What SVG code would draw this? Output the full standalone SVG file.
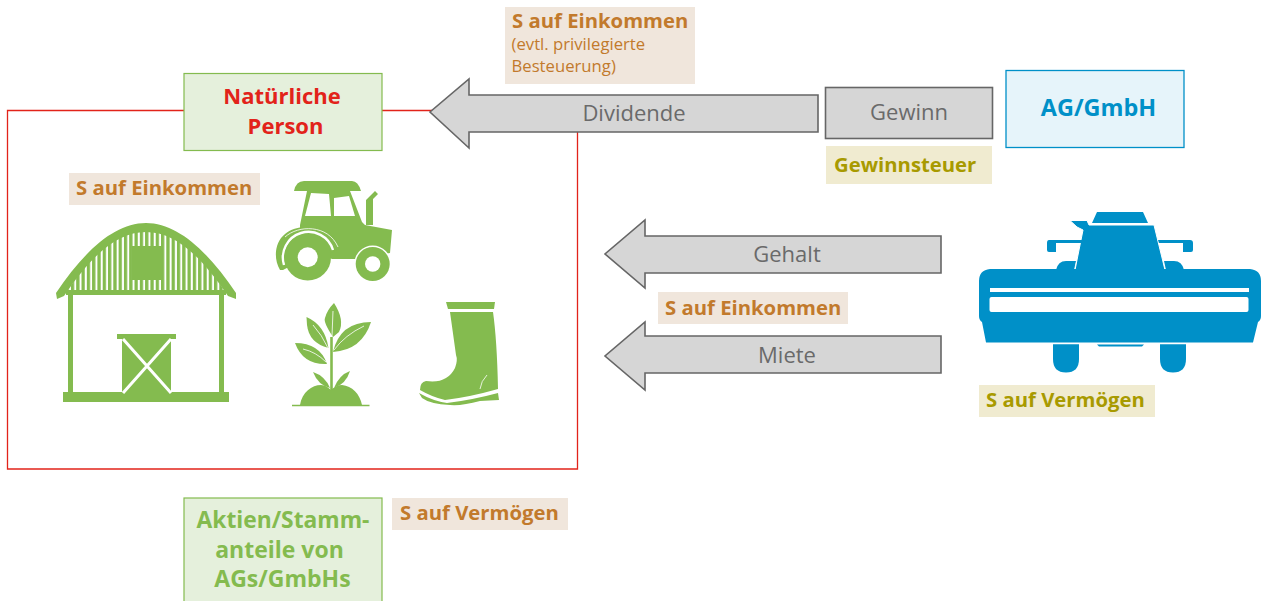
<svg xmlns="http://www.w3.org/2000/svg" width="1262" height="601" viewBox="0 0 1262 601">
<style>
text{font-family:"Open Sans","Noto Sans","Liberation Sans",sans-serif}
.b{font-weight:700;font-size:20.300px}
.l{font-size:23px}
.o{fill:#c27a2c}.y{fill:#a89a00}.g{fill:#84bb4f}.r{fill:#e2231a}.c{fill:#0090c8}
.t{fill:#6a6a6a;font-size:22px;text-anchor:middle}
.m{text-anchor:middle}
.ob{fill:#f0e6dc}.yb{fill:#f0ebd0}
.gb{fill:#e5f0dc;stroke:#84bb4f;stroke-width:1.2}
.arr{fill:#d6d6d6;stroke:#666;stroke-width:1.6}
.ic{fill:#84bb4f}.w{fill:#fff}.bl{fill:#0090c8}
.v{fill:none;stroke:#fff;stroke-width:.8}
</style>
<defs>
<pattern id="st" width="5.3" height="10" patternUnits="userSpaceOnUse" x="2"><rect width="3.3" height="10" fill="#84bb4f"/></pattern>
</defs>
<g id="connectors">
<path d="M7.500 110.500H577.500V469H7.500Z" fill="#fff" stroke="#e2231a" stroke-width="1.300"/>
<path class="arr" d="M818 95V132H469V148L430 112L469 79V95Z"/>
<path class="arr" d="M941 236V273H645V288L605 254L645 220V236Z"/>
<path class="arr" d="M941 336V373H645V390L605 356L645 322V336Z"/>
</g>
<g id="label-einkommen-top"><rect class="ob" x="505" y="7" width="190" height="77"/>
<text class="b o" x="512" y="28">S auf Einkommen</text>
<text class="o" x="511.500" y="50" font-size="16.700">(evtl. privilegierte</text>
<text class="o" x="511.500" y="72" font-size="16.700">Besteuerung)</text></g>
<g id="dividende"><text class="t" x="634" y="120.500">Dividende</text></g>
<g id="gewinn"><rect x="825.500" y="87.500" width="167" height="51" fill="#d6d6d6" stroke="#666" stroke-width="1.600"/><text class="t" x="909" y="119.500">Gewinn</text></g>
<g id="ag-gmbh"><rect x="1006" y="70.500" width="178" height="77" fill="#e6f4fa" stroke="#0090c8" stroke-width="1.300"/><text class="b c m l" x="1098.500" y="116" style="font-size:23.400px">AG/GmbH</text></g>
<g id="gewinnsteuer"><rect class="yb" x="826" y="146" width="166" height="38"/><text class="b y" x="834" y="172">Gewinnsteuer</text></g>
<g id="natuerliche-person"><rect class="gb" x="184" y="73.500" width="198" height="77"/><text class="b r m" x="282" y="104" style="font-size:22px">Natürliche</text><text class="b r m" x="285.500" y="133.500" style="font-size:22px">Person</text></g>
<g id="label-einkommen-person"><rect class="ob" x="69" y="173" width="191" height="32"/><text class="b o" x="76" y="195">S auf Einkommen</text></g>
<g id="gehalt"><text class="t" x="787" y="262">Gehalt</text></g>
<g id="label-einkommen-gehalt"><rect class="ob" x="658" y="292" width="190" height="32"/><text class="b o" x="665" y="315">S auf Einkommen</text></g>
<g id="miete"><text class="t" x="787" y="363">Miete</text></g>
<g id="label-vermoegen-right"><rect class="yb" x="979" y="385" width="176" height="32"/><text class="b y" x="986" y="407">S auf Vermögen</text></g>
<g id="label-vermoegen-bottom"><rect class="ob" x="392" y="498" width="176" height="32"/><text class="b o" x="400" y="520">S auf Vermögen</text></g>
<g id="aktien"><rect class="gb" x="184" y="498" width="198" height="110"/><text class="b g m" x="283" y="528" style="font-size:22.800px">Aktien/Stamm-</text><text class="b g m" x="279.500" y="558" style="font-size:23px">anteile von</text><text class="b g m" x="282.500" y="587" style="font-size:23px">AGs/GmbHs</text></g>
<g id="barn">
<path d="M68 290Q105 231 146 231Q187 231 224 290Z" fill="url(#st)"/>
<path class="ic" d="M56 293C85 250 115 223 146 223C177 223 207 250 236 293L236 299L228 296C200 255 175 232 146 232C117 232 92 255 64 296L57 299Z"/>
<rect class="ic" x="132" y="246" width="29" height="34"/>
<rect class="ic" x="66" y="290" width="160" height="5"/>
<rect class="ic" x="68" y="295" width="5" height="98"/><rect class="ic" x="219" y="295" width="5" height="98"/>
<rect class="ic" x="63" y="392" width="166" height="10"/>
<rect class="ic" x="117" y="334" width="59" height="5"/>
<rect class="ic" x="122" y="339" width="49" height="54"/>
<path d="M123 339L171 393M171 339L123 393" stroke="#fff" stroke-width="3" fill="none"/>
</g>
<g id="tractor">
<path class="ic" d="M294 191Q296 181 304 181H352Q358 181 361 191Z"/>
<path class="ic" d="M307 191L300 225L300 245L332 259H356L390 253L392 230L365 225L362 222L350 191Z"/>
<path class="w" d="M311 193L329 194L331 216H305Z"/>
<path class="w" d="M334 198L349 196L355 216H334Z"/>
<path class="ic" d="M366 225V200L375 191L378 194L373 199V225Z"/>
<path class="ic" d="M283 270L280 270C273 258 275 242 285 234C297 223 331 222 340 248L333 252L308 257Z"/>
<path class="v" stroke-width="1" d="M285 237C298 225 328 224 338 247"/>
<path d="M284 265A25 25 0 1 1 333 250" fill="none" stroke="#fff" stroke-width="2.400"/>
<circle class="ic" cx="307.700" cy="257.300" r="23.300"/><circle class="w" cx="307.700" cy="257.300" r="10"/>
<circle class="w" cx="372.700" cy="264" r="18.500"/>
<circle class="ic" cx="372.700" cy="264" r="17"/><circle class="w" cx="372.700" cy="264" r="7.700"/>
</g>
<g id="plant">
<path class="ic" d="M292 404.800H369.500V406.300H292Z"/>
<path class="ic" d="M300 405C302 392 312 385 321 385C325 385 329 388 331 390C334 387 338 385 342 385C352 386 360 394 362 405Z"/>
<path d="M331.500 337V391" stroke="#84bb4f" stroke-width="2.600" fill="none"/>
<path class="ic" d="M334 303Q345 320 339 332L333 337Q323 322 325 318Q327 310 334 303Z"/>
<path class="ic" d="M306.500 317Q325 325 328.500 348Q309 343 307 325Z"/>
<path class="ic" d="M371 322Q340 322 333 352Q362 350 371 322Z"/>
<path class="ic" d="M295 343Q320 343 327 364Q303 365 295 343Z"/>
<path class="ic" d="M313 372Q325 376 330 388Q318 385 313 372Z"/>
<path class="ic" d="M350 371Q339 375 334 388Q346 384 350 371Z"/>
<path class="v" d="M333 311L332 336M313 325Q322 335 328 348M364 326Q345 335 334 350M303 349Q316 352 326 362"/>
</g>
<g id="boot">
<path class="ic" d="M446 302H495L494 309H448Z"/>
<path class="ic" d="M450 312H493Q497 340 498 389Q470 397 445 400Q432 397 420 390Q420 382 426 381Q447 384 455 368Q458 360 456 355Z"/>
<path class="ic" d="M419 393Q433 401 447 403Q472 400 498 393L499 400L480 401Q462 406 450 405Q430 404 422 398Z"/>
<path class="v" d="M480 389Q481 381 487 375"/>
</g>
<g id="combine">
<path class="bl" d="M1097 212H1143L1148 223H1092Z"/>
<path class="bl" d="M1056 270Q1058 261 1066 261H1076L1074 270Z"/>
<path class="bl" d="M1184 270Q1182 261 1174 261H1164L1166 270Z"/>
<path class="bl" stroke="#fff" stroke-width="1" d="M1070 220.500H1087L1089 225H1154L1165 270H1075L1083 230L1077 227Z"/>
<path class="bl" d="M1082 240H1049Q1047 240 1047 243V250Q1047 252 1049 252H1056V243H1082Z"/>
<path class="bl" d="M1158 240H1190Q1193 240 1193 243V250Q1193 252 1191 252H1183V243H1159Z"/>
<path class="bl" d="M990 269H1250Q1261 270 1261 281V316Q1261 320 1258 322L1253 342.500H986L982 322Q979 320 979 316V281Q979 270 990 269Z"/>
<rect class="w" x="990" y="288" width="259" height="4"/>
<rect class="w" x="989.500" y="297" width="259" height="15" rx="2"/>
<path class="bl" d="M1053 344.300H1079V359Q1079 372.500 1066 372.500Q1053 372.500 1053 359Z"/>
<path class="bl" d="M1160 344.300H1186V359Q1186 372.500 1173 372.500Q1160 372.500 1160 359Z"/>
<path class="bl" d="M1097 344.500H1144L1142 346.500H1099Z"/>
</g>
</svg>
